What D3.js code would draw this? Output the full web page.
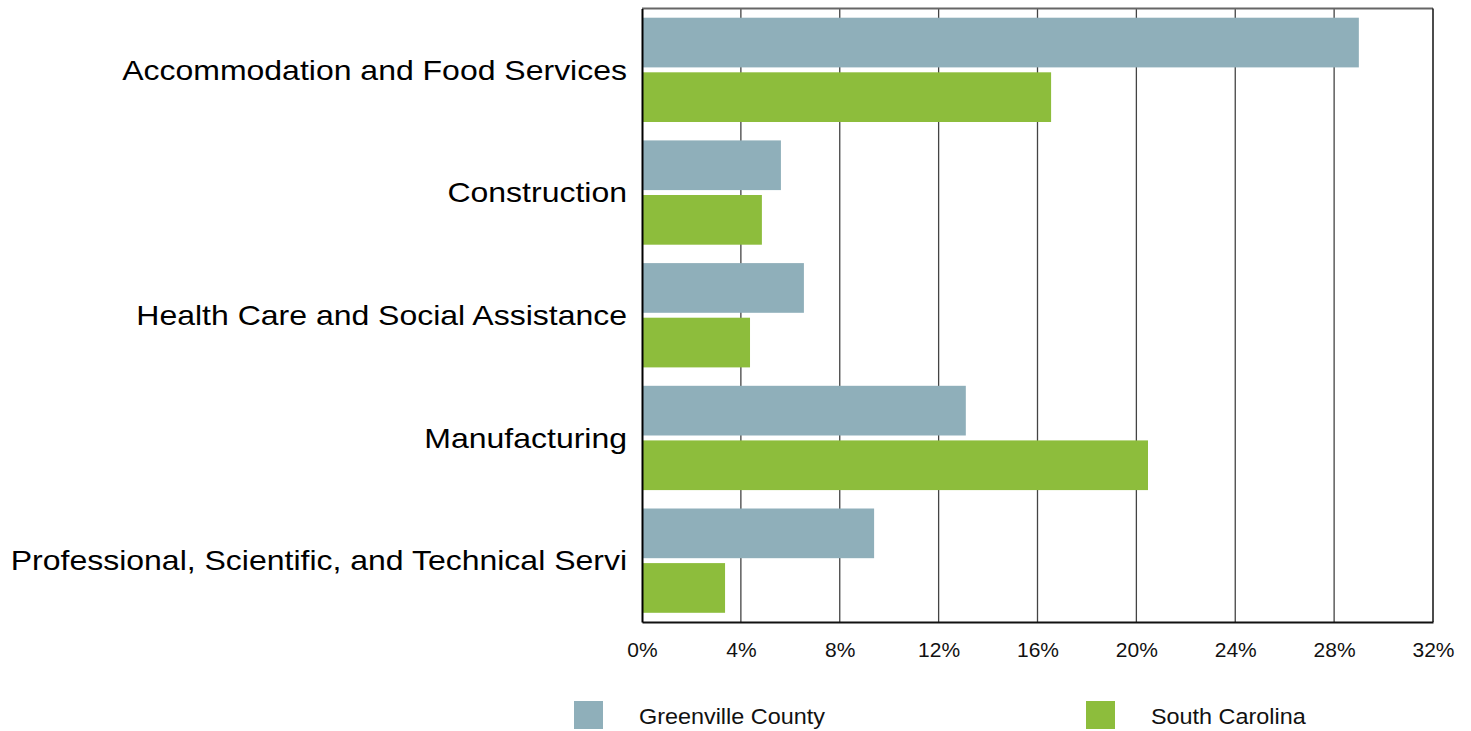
<!DOCTYPE html>
<html><head><meta charset="utf-8">
<script src="https://cdn.jsdelivr.net/npm/d3@7"></script>
<style>body{margin:0;background:#fff;} text{font-family:"Liberation Sans",Arial,sans-serif;}</style>
</head><body>
<svg id="c" width="1471" height="731"></svg>
<script>
const categories = ["Accommodation and Food Services","Construction","Health Care and Social Assistance","Manufacturing","Professional, Scientific, and Technical Servi"];
const seriesNames = ["Greenville County","South Carolina"];
const greenville = [29.0, 5.62, 6.55, 13.1, 9.39];
const southCarolina = [16.55, 4.85, 4.37, 20.47, 3.36];
const xTicks = [0,4,8,12,16,20,24,28,32];
const colors = ["#8fafba","#8dbd3c"];

const svg = d3.select("#c");
const L=642, R=1433, T=8.5, B=622;
const x = d3.scaleLinear().domain([0,32]).range([L,R]);
const y = d3.scaleBand().domain(categories).range([T,B]).paddingInner(0.15).paddingOuter(0.075);
const inner = d3.scaleBand().domain(seriesNames).range([0,y.bandwidth()]).paddingInner(0.09);

// grid
svg.append("g").selectAll("line").data(xTicks.slice(1,-1)).join("line")
  .attr("x1",d=>x(d)).attr("x2",d=>x(d)).attr("y1",T).attr("y2",B)
  .attr("stroke","#444").attr("stroke-width",1.3);

const data = [greenville, southCarolina];
seriesNames.forEach((s,i)=>{
  svg.append("g").selectAll("rect").data(categories).join("rect")
    .attr("x",x(0)).attr("y",d=>y(d)+inner(s))
    .attr("width",(d,j)=>x(data[i][j])-x(0)).attr("height",inner.bandwidth())
    .attr("fill",colors[i]);
});

// frame
svg.append("line").attr("x1",L).attr("x2",R).attr("y1",T).attr("y2",T).attr("stroke","#666").attr("stroke-width",2);
svg.append("line").attr("x1",R).attr("x2",R).attr("y1",T).attr("y2",B).attr("stroke","#111").attr("stroke-width",1.5);

// x axis
const xa = svg.append("g").attr("transform",`translate(0,${B})`)
  .call(d3.axisBottom(x).tickValues(xTicks).tickFormat(d=>d+"%").tickSize(0).tickPadding(20));
xa.select(".domain").attr("stroke","#111").attr("stroke-width",2);
xa.selectAll("text").attr("font-size",21).attr("fill","#111").style("font-family","'Liberation Sans',Arial,sans-serif");

// y axis
const ya = svg.append("g").attr("transform",`translate(${L},0)`)
  .call(d3.axisLeft(y).tickSize(0).tickFormat(""));
ya.select(".domain").attr("stroke","#000").attr("stroke-width",2);
const sx = 1.143;
svg.append("g").selectAll("text").data(categories).join("text")
  .attr("transform",d=>`translate(627,${y(d)+y.bandwidth()/2}) scale(${sx},1)`)
  .attr("text-anchor","end").attr("dy","0.35em")
  .attr("font-size",28).attr("fill","#000").text(d=>d);

// legend
const leg = [{x:574,tx:639},{x:1086,tx:1151}];
seriesNames.forEach((s,i)=>{
  svg.append("rect").attr("x",leg[i].x).attr("y",701).attr("width",29).attr("height",28).attr("fill",colors[i]);
  svg.append("text").attr("transform",`translate(${leg[i].tx},723.5) scale(1.04,1)`)
    .attr("font-size",22.5).attr("fill","#111").text(s);
});
</script>
</body></html>
